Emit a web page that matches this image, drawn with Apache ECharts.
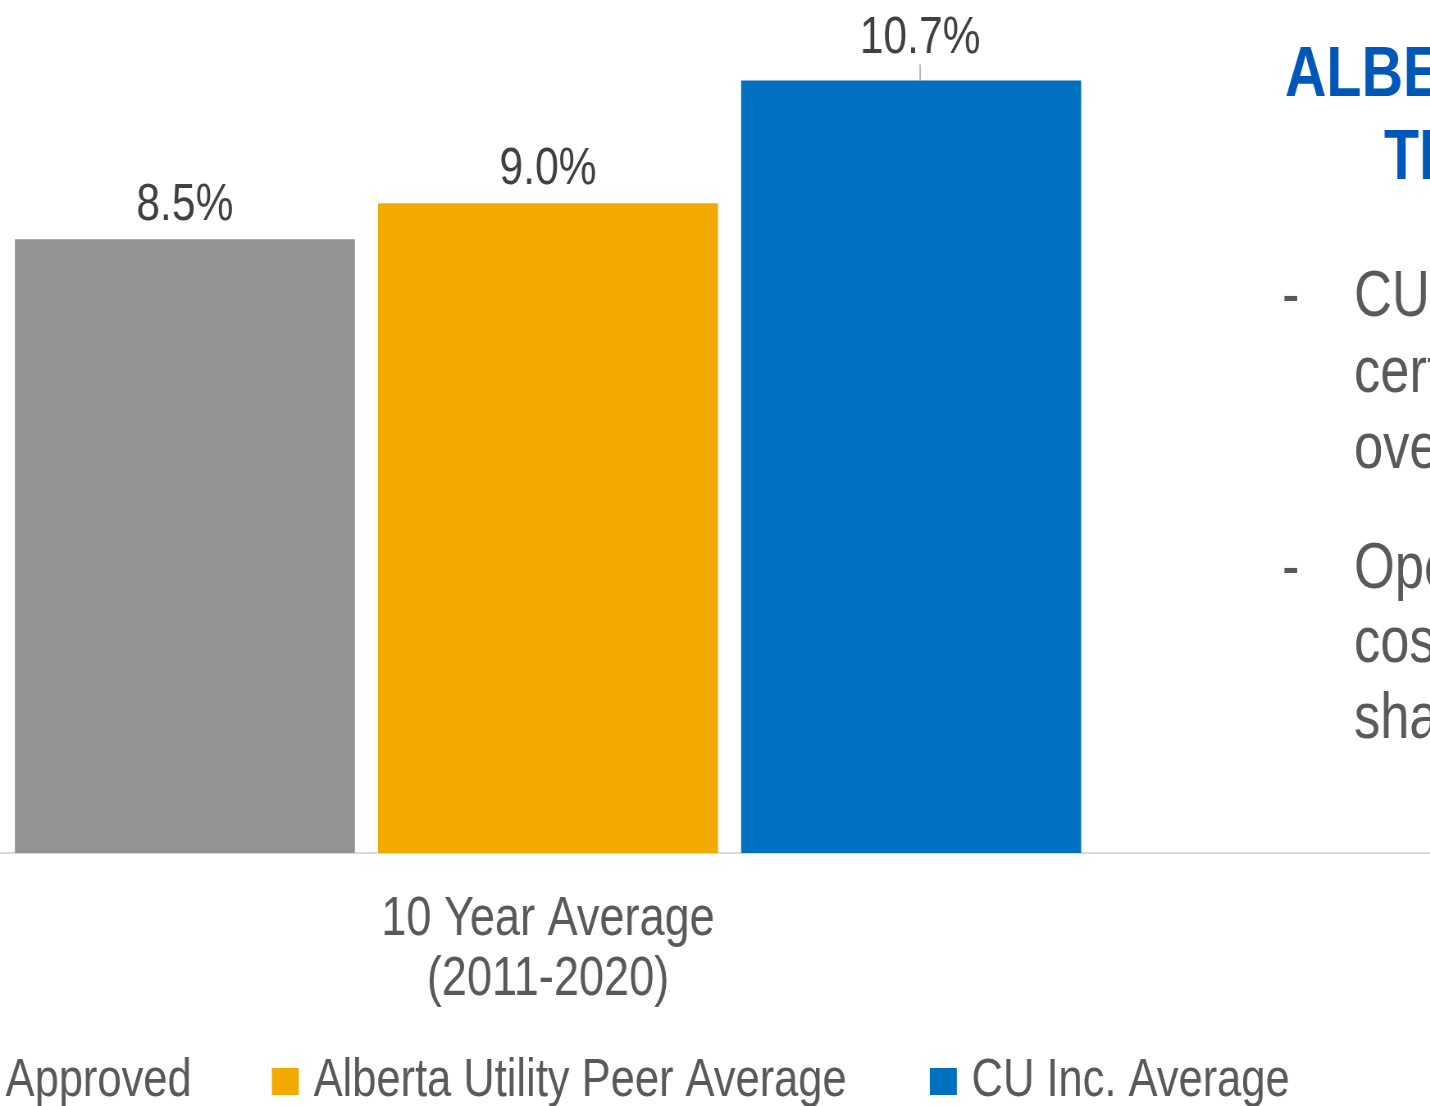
<!DOCTYPE html>
<html>
<head>
<meta charset="utf-8">
<title>10 Year Average ROE</title>
<script src="https://cdn.jsdelivr.net/npm/echarts@6/dist/echarts.min.js"></script>
<style>
  html, body { margin: 0; padding: 0; background: #fff; overflow: hidden; }
  /* the slide uses a narrow face; none is installed, so the whole chart is
     drawn wider and squeezed back to 1430px (Arial Narrow is ~82% of Arial) */
  #chart {
    width: 1744px;
    height: 1106px;
    transform: scaleX(0.82);
    transform-origin: 0 0;
  }
</style>
</head>
<body>
<div id="chart"></div>
<script>
// data
const categories = ['10 Year Average\n(2011-2020)']
const seriesNames = ['Approved', 'Alberta Utility Peer Average', 'CU Inc. Average']
const approvedValues = [8.5]
const peerValues = [9.0]
const cuValues = [10.7]
const colors = ['#939393', '#F2AA00', '#0070C0']

const SX = 0.82            // horizontal squeeze of the container
const px = v => v / SX     // screen x -> chart x

const font = "'Liberation Sans', Arial, sans-serif"

const chart = echarts.init(document.getElementById('chart'))

const barLabel = {
  show: true,
  position: 'top',
  distance: 8,
  fontFamily: font,
  fontSize: 52,
  color: '#404040',
  formatter: p => p.value.toFixed(1) + '%'
}

// one legend per item so each sits where the slide put it
const legendLefts = [-37, 271, 929]
const legends = seriesNames.map((name, i) => ({
  data: [name],
  left: px(legendLefts[i]) - 4,
  top: 1050,
  icon: 'rect',
  itemWidth: px(27),
  itemHeight: 27,
  textStyle: {
    fontFamily: font,
    fontSize: 53,
    color: '#595959',
    padding: [0, 0, 0, 13]
  }
}))

// text on the right of the slide, cut by its edge
const sideText = [
  { text: 'ALBERTA', x: 1285, y: 77, size: 70, bold: true, color: '#0057B8' },
  { text: 'THE', x: 1384, y: 160, size: 70, bold: true, color: '#0057B8' },
  { text: '-', x: 1282, y: 298, size: 64, color: '#595959' },
  { text: 'CU Inc.', x: 1354, y: 298, size: 64, color: '#595959' },
  { text: 'certainty', x: 1354, y: 374, size: 64, color: '#595959' },
  { text: 'over', x: 1354, y: 450, size: 64, color: '#595959' },
  { text: '-', x: 1282, y: 570, size: 64, color: '#595959' },
  { text: 'Operating', x: 1354, y: 570, size: 64, color: '#595959' },
  { text: 'cost', x: 1354, y: 644, size: 64, color: '#595959' },
  { text: 'shared', x: 1354, y: 720, size: 64, color: '#595959' }
]

// bars are centred at x=548 on screen, so the plot ends short of the right edge
const plotRight = 1744 - px(548) * 2

chart.setOption({
  animation: false,
  color: colors,
  grid: [
    { left: 0, right: plotRight, top: 1, bottom: 253 },
    { left: 0, right: 0, top: 1, bottom: 253 }   // only carries the full-width base line
  ],
  legend: legends,
  xAxis: [
    {
      type: 'category',
      data: categories,
      gridIndex: 0,
      axisLine: { show: false },
      axisTick: { show: false },
      axisLabel: {
        fontFamily: font,
        fontSize: 55,
        lineHeight: 60,
        color: '#595959',
        margin: 37
      }
    },
    {
      type: 'category',
      data: [''],
      gridIndex: 1,
      axisLine: { lineStyle: { color: '#d9d9d9', width: 2 } },
      axisTick: { show: false },
      axisLabel: { show: false }
    }
  ],
  yAxis: [
    { type: 'value', min: 0, max: 11.8, show: false, gridIndex: 0 },
    { type: 'value', min: 0, max: 11.8, show: false, gridIndex: 1 }
  ],
  series: [
    {
      name: seriesNames[0],
      type: 'bar',
      data: approvedValues,
      barWidth: px(340),
      barGap: '6.8%',
      label: barLabel
    },
    {
      name: seriesNames[1],
      type: 'bar',
      data: peerValues,
      barWidth: px(340),
      label: barLabel
    },
    {
      name: seriesNames[2],
      type: 'bar',
      data: cuValues,
      barWidth: px(340),
      label: barLabel,
      labelLayout: { dx: px(9), dy: -8 },
      labelLine: { show: true, lineStyle: { color: '#a6a6a6', width: 1.5 } }
    }
  ],
  graphic: sideText.map(t => ({
    type: 'text',
    x: px(t.x),
    y: t.y,
    style: {
      text: t.text,
      fill: t.color,
      font: (t.bold ? 'bold ' : '') + t.size + 'px ' + font,
      verticalAlign: 'middle'
    }
  }))
})
</script>
</body>
</html>
